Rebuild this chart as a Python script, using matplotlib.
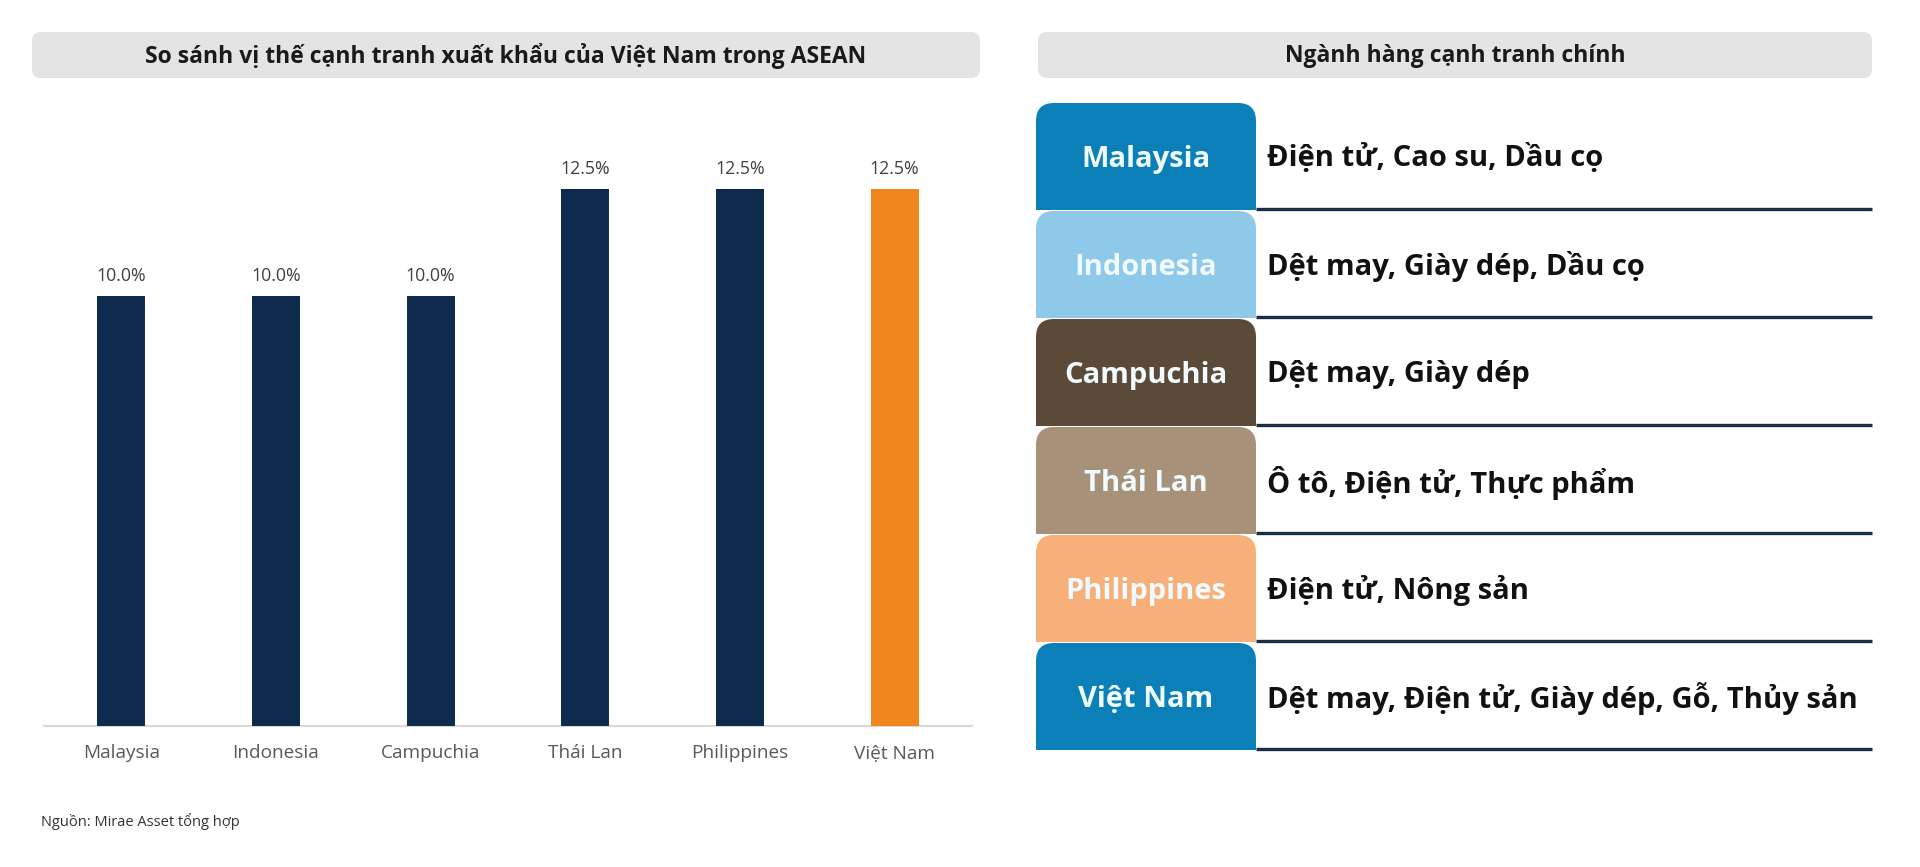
import matplotlib
matplotlib.use("Agg")
import matplotlib.pyplot as plt
from matplotlib.patches import FancyBboxPatch, Rectangle

# ---------------- data ----------------
countries = ["Malaysia", "Indonesia", "Campuchia", "Thái Lan", "Philippines", "Việt Nam"]
values = [10.0, 10.0, 10.0, 12.5, 12.5, 12.5]
bar_colors = ["#0e2b4e", "#0e2b4e", "#0e2b4e", "#0e2b4e", "#0e2b4e", "#f2861e"]

sectors = [
    "Điện tử, Cao su, Dầu cọ",
    "Dệt may, Giày dép, Dầu cọ",
    "Dệt may, Giày dép",
    "Ô tô, Điện tử, Thực phẩm",
    "Điện tử, Nông sản",
    "Dệt may, Điện tử, Giày dép, Gỗ, Thủy sản",
]
box_colors = ["#0b80b8", "#8ec9e9", "#5b4a38", "#a89179", "#f7b079", "#0b80b8"]

left_title = "So sánh vị thế cạnh tranh xuất khẩu của Việt Nam trong ASEAN"
right_title = "Ngành hàng cạnh tranh chính"
source = "Nguồn: Mirae Asset tổng hợp"

plt.rcParams["font.family"] = ["Open Sans", "DejaVu Sans"]

W, H = 1920, 867
fig = plt.figure(figsize=(W / 100, H / 100), dpi=100)
fig.patch.set_facecolor("white")

# overlay axes in pixel coordinates
bg = fig.add_axes([0, 0, 1, 1])
bg.set_xlim(0, W)
bg.set_ylim(H, 0)
bg.axis("off")

# title bars
for (x0, x1), txt in [((32, 980), left_title), ((1038, 1872), right_title)]:
    bg.add_patch(FancyBboxPatch((x0, 32), x1 - x0, 46,
                                boxstyle="round,pad=0,rounding_size=9",
                                fc="#e4e4e4", ec="none"))
    bg.text((x0 + x1) / 2, 56, txt, ha="center", va="center",
            fontsize=16.5, fontweight="bold", color="#1a1a1a")

# bar chart axes
ax_left, ax_right = 44, 972
base_y, top_y = 726, 100
ax = fig.add_axes([ax_left / W, 1 - base_y / H, (ax_right - ax_left) / W, (base_y - top_y) / H])
ax.set_facecolor("none")
x = list(range(len(countries)))
ymax = 12.5 * (base_y - top_y) / (base_y - 189)
bars = ax.bar(x, values, width=0.31, color=bar_colors, zorder=3)
ax.set_xlim(-0.5, len(countries) - 0.5)
ax.set_ylim(0, ymax)
for b, v in zip(bars, values):
    ax.annotate(f"{v:.1f}%", (b.get_x() + b.get_width() / 2, v),
                xytext=(0, 8), textcoords="offset points",
                ha="center", va="bottom", fontsize=12.8, color="#404040")
ax.set_xticks(x)
ax.set_xticklabels(countries, fontsize=13.7, color="#595959")
ax.tick_params(axis="x", length=0, pad=13)
ax.set_yticks([])
for s in ["top", "right", "left"]:
    ax.spines[s].set_visible(False)
ax.spines["bottom"].set_color("#d9d9d9")
ax.spines["bottom"].set_linewidth(1.5)

bg.text(41, 822, source, ha="left", va="center", fontsize=10.5, color="#333333")

# right panel table
row_top0, row_h = 103, 108
bx0, bx1 = 1036, 1256
line_x1 = 1872
for i, (c, s, col) in enumerate(zip(countries, sectors, box_colors)):
    top = row_top0 + i * row_h
    bottom = top + 107
    bg.add_patch(FancyBboxPatch((bx0, top), bx1 - bx0, bottom - top,
                                boxstyle="round,pad=0,rounding_size=18",
                                fc=col, ec="none", zorder=2))
    mid = (top + bottom) / 2
    bg.add_patch(Rectangle((bx0, mid), bx1 - bx0, bottom - mid, fc=col, ec="none", zorder=2))
    bg.text((bx0 + bx1) / 2, mid + 3, c, ha="center", va="center",
            fontsize=21, fontweight="bold", color="#f0fbff", zorder=3)
    bg.text(1267, mid + 2, s, ha="left", va="center",
            fontsize=21, fontweight="bold", color="#111111", zorder=3)
    bg.plot([bx1, line_x1], [bottom - 1, bottom - 1], color="#1c2e45", lw=2.4,
            solid_capstyle="butt", zorder=1)

fig.savefig("out.png", dpi=100, facecolor="white")
